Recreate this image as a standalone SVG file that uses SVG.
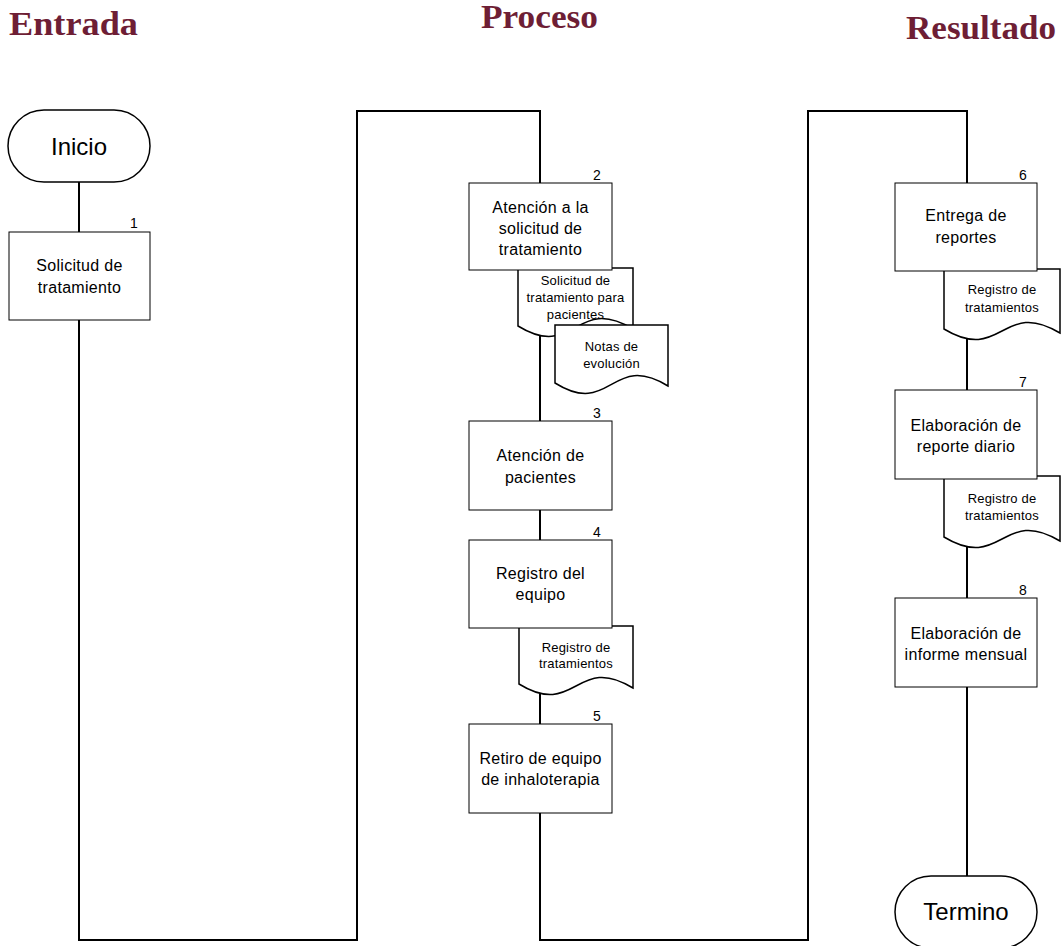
<svg xmlns="http://www.w3.org/2000/svg" width="1063" height="946" viewBox="0 0 1063 946">
<style>
.h{font-family:"Liberation Serif","Times New Roman",serif;font-weight:bold;font-size:34px;fill:#6E1E35}
.conn{fill:none;stroke:#000;stroke-width:2}
.box{fill:#fff;stroke:#000;stroke-width:1}
.doc{fill:#fff;stroke:#000;stroke-width:1.5}
.term{fill:#fff;stroke:#000;stroke-width:1.5}
.t{font-family:"Liberation Sans",Arial,sans-serif;font-size:16px;fill:#000;text-anchor:middle;letter-spacing:0.3px}
.d{font-family:"Liberation Sans",Arial,sans-serif;font-size:13px;fill:#000;text-anchor:middle;letter-spacing:0.2px}
.n{font-family:"Liberation Sans",Arial,sans-serif;font-size:14px;fill:#000;text-anchor:middle}
.big{font-family:"Liberation Sans",Arial,sans-serif;font-size:24px;fill:#000;text-anchor:middle}
</style>
<rect width="1063" height="946" fill="#fff"/>
<g id="headings">
<text class="h" x="9" y="35" textLength="129" lengthAdjust="spacingAndGlyphs">Entrada</text>
<text class="h" x="481" y="28" textLength="117" lengthAdjust="spacingAndGlyphs">Proceso</text>
<text class="h" x="906" y="39" textLength="150" lengthAdjust="spacingAndGlyphs">Resultado</text>
</g>
<g id="connectors">
<path class="conn" d="M79,182 V232"/>
<path class="conn" d="M79,320 V940 H357 V111 H540 V183"/>
<path class="conn" d="M540,270 V421"/>
<path class="conn" d="M540,510 V540"/>
<path class="conn" d="M540,628 V724"/>
<path class="conn" d="M540,813 V940 H808 V111 H967 V183"/>
<path class="conn" d="M967,271 V390"/>
<path class="conn" d="M967,479 V598"/>
<path class="conn" d="M967,687 V876"/>
</g>
<g id="inicio">
<rect class="term" x="8" y="110" width="142" height="72" rx="36" ry="36"/>
<text class="big" x="79" y="155">Inicio</text>
</g>
<g id="n1">
<rect class="box" x="9" y="232" width="141" height="88"/>
<text class="n" x="134" y="228">1</text>
<text class="t" x="79.5" y="271">Solicitud de</text>
<text class="t" x="79.5" y="293">tratamiento</text>
</g>
<g id="doc1">
<path class="doc" d="M518,268 H633 V329 C575,294 575,361 518,326 Z"/>
<text class="d" x="575.5" y="285">Solicitud de</text>
<text class="d" x="575.5" y="302">tratamiento para</text>
<text class="d" x="575.5" y="319">pacientes</text>
</g>
<g id="doc-notas">
<path class="doc" d="M555,325 H668 V386 C611,351 611,418 555,383 Z"/>
<text class="d" x="611.5" y="351">Notas de</text>
<text class="d" x="611.5" y="368">evolución</text>
</g>
<g id="n2">
<rect class="box" x="469" y="183" width="143" height="87"/>
<text class="n" x="597" y="180">2</text>
<text class="t" x="540.5" y="213">Atención a la</text>
<text class="t" x="540.5" y="234">solicitud de</text>
<text class="t" x="540.5" y="255">tratamiento</text>
</g>
<g id="n3">
<rect class="box" x="469" y="421" width="143" height="89"/>
<text class="n" x="597" y="418">3</text>
<text class="t" x="540.5" y="461">Atención de</text>
<text class="t" x="540.5" y="483">pacientes</text>
</g>
<g id="doc4">
<path class="doc" d="M519,626 H633 V688 C576,653 576,719 519,684 Z"/>
<text class="d" x="576" y="652">Registro de</text>
<text class="d" x="576" y="668">tratamientos</text>
</g>
<g id="n4">
<rect class="box" x="469" y="540" width="143" height="88"/>
<text class="n" x="597" y="537">4</text>
<text class="t" x="540.5" y="579">Registro del</text>
<text class="t" x="540.5" y="600">equipo</text>
</g>
<g id="n5">
<rect class="box" x="469" y="724" width="143" height="89"/>
<text class="n" x="597" y="721">5</text>
<text class="t" x="540.5" y="764">Retiro de equipo</text>
<text class="t" x="540.5" y="785">de inhaloterapia</text>
</g>
<g id="doc6">
<path class="doc" d="M944,269 H1060 V333 C1002,298 1002,364 944,329 Z"/>
<text class="d" x="1002" y="294">Registro de</text>
<text class="d" x="1002" y="312">tratamientos</text>
</g>
<g id="n6">
<rect class="box" x="895" y="183" width="142" height="88"/>
<text class="n" x="1023" y="180">6</text>
<text class="t" x="966" y="221">Entrega de</text>
<text class="t" x="966" y="243">reportes</text>
</g>
<g id="doc7">
<path class="doc" d="M944,476 H1060 V541 C1002,506 1002,572 944,537 Z"/>
<text class="d" x="1002" y="503">Registro de</text>
<text class="d" x="1002" y="520">tratamientos</text>
</g>
<g id="n7">
<rect class="box" x="895" y="390" width="142" height="89"/>
<text class="n" x="1023" y="387">7</text>
<text class="t" x="966" y="431">Elaboración de</text>
<text class="t" x="966" y="452">reporte diario</text>
</g>
<g id="n8">
<rect class="box" x="895" y="598" width="142" height="89"/>
<text class="n" x="1023" y="595">8</text>
<text class="t" x="966" y="639">Elaboración de</text>
<text class="t" x="966" y="660">informe mensual</text>
</g>
<g id="termino">
<rect class="term" x="895" y="876" width="142" height="72" rx="36" ry="36"/>
<text class="big" x="966" y="920">Termino</text>
</g>
</svg>
